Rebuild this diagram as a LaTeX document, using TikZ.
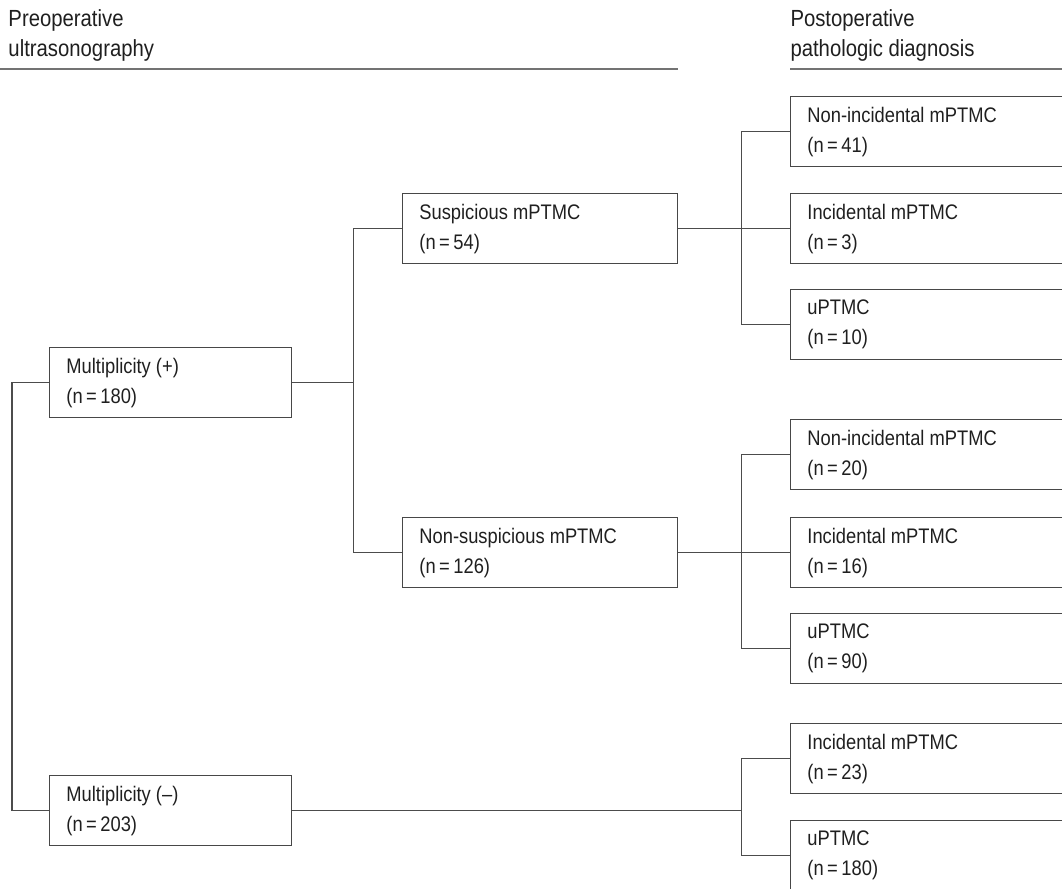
\documentclass[tikz,border=0pt]{standalone}
\usepackage{fontspec}
\setmainfont{Liberation Sans}[FakeStretch=0.87]
\newcommand{\boxfont}{\fontsize{15.8}{22.5}\selectfont}
\newcommand{\headfont}{\fontsize{17.5}{22.5}\selectfont}
\tikzset{every picture/.style={line width=0.75pt}}
\tikzset{
  flowbox/.style={draw=black!72, line width=1.1pt, anchor=north west,
    minimum height=52.5pt, inner xsep=12.5pt, inner ysep=0pt, align=flush left,
    text=black!88, font=\boxfont, text width=#1},
  link/.style={draw=black!70, line width=1pt},
  headrule/.style={draw=black!55, line width=1.5pt},
  headtext/.style={anchor=north west, inner sep=0pt, align=flush left,
    text=black!88, font=\headfont}
}

\begin{document}
\begin{tikzpicture}[x=0.75pt,y=0.75pt,yscale=-1,xscale=1]
\useasboundingbox (0,0) rectangle (1062,888);
\clip (0,0) rectangle (1062,888);

% Headers
\node [headtext] (hpre) at (8,9.5) {Preoperative\\ultrasonography};
\node [headtext] (hpost) at (790,9.5) {Postoperative\\pathologic diagnosis};
\draw [headrule] (0,69) -- (678,69);
\draw [headrule] (790,69) -- (1062,69);

% Left column
\node [flowbox=156.5pt] (mplus) at (49,347) {Multiplicity (+)\\(n\,=\,180)};
\node [flowbox=156.5pt] (mminus) at (49,775) {Multiplicity (--)\\(n\,=\,203)};

% Middle column
\node [flowbox=181.25pt] (susp) at (402,193) {Suspicious mPTMC\\(n\,=\,54)};
\node [flowbox=181.25pt] (nsusp) at (402,517) {Non-suspicious mPTMC\\(n\,=\,126)};

% Right column
\node [flowbox=207.5pt] (sa) at (790,96) {Non-incidental mPTMC\\(n\,=\,41)};
\node [flowbox=207.5pt] (sb) at (790,193) {Incidental mPTMC\\(n\,=\,3)};
\node [flowbox=207.5pt] (sc) at (790,289) {uPTMC\\(n\,=\,10)};
\node [flowbox=207.5pt] (na) at (790,419) {Non-incidental mPTMC\\(n\,=\,20)};
\node [flowbox=207.5pt] (nb) at (790,517) {Incidental mPTMC\\(n\,=\,16)};
\node [flowbox=207.5pt] (nc) at (790,613) {uPTMC\\(n\,=\,90)};
\node [flowbox=207.5pt] (ma) at (790,723) {Incidental mPTMC\\(n\,=\,23)};
\node [flowbox=207.5pt] (mb) at (790,820) {uPTMC\\(n\,=\,180)};

% Connectors
\draw [link] (mplus.west) -- ++(-37,0) |- (mminus.west);
\draw [link] (mplus.east) -- ++(61,0) coordinate (jplus);
\draw [link] (susp.west) -| (jplus) |- (nsusp.west);
\draw [link] (susp.east) -- ++(63,0) coordinate (jsusp);
\draw [link] (jsusp) -- (sb.west);
\draw [link] (sa.west) -| (jsusp) |- (sc.west);
\draw [link] (nsusp.east) -- ++(63,0) coordinate (jnsusp);
\draw [link] (jnsusp) -- (nb.west);
\draw [link] (na.west) -| (jnsusp) |- (nc.west);
\draw [link] (mminus.east) -- ++(449,0) coordinate (jminus);
\draw [link] (ma.west) -| (jminus) |- (mb.west);

\end{tikzpicture}
\end{document}
